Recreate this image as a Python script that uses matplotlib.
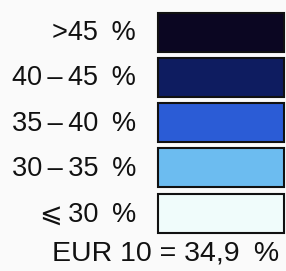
import matplotlib
matplotlib.use("Agg")
import matplotlib.pyplot as plt

labels = [">45\u2002%", "40\u2009–\u200945\u2002%", "35\u2009–\u200940\u2002%",
          "30\u2009–\u200935\u2002%", "⩽\u200930\u2002%"]
colors = ["#0b0622", "#0e1c60", "#2b5cd6", "#6cbcf0", "#f0fcfb"]
note = "EUR 10 = 34,9\u2002%"

W, H = 286, 271
fig = plt.figure(figsize=(W / 100, H / 100), dpi=100)
fig.patch.set_facecolor("#fafafa")
ax = fig.add_axes([0, 0, 1, 1])
ax.set_xlim(0, W)
ax.set_ylim(H, 0)
ax.axis("off")

fam = ["Liberation Sans", "DejaVu Sans"]
y0, step = 32, 45.3
ys = [y0 + i * step for i in range(len(labels))]
ax.barh(ys, [126] * len(labels), left=158, height=39, color=colors,
        edgecolor="#111111", linewidth=1.5)
for y, lab in zip(ys, labels):
    ax.text(136, y + 1, lab, ha="right", va="center", fontsize=19.5, family=fam,
            color="#111111")
ax.text(279, 254, note, ha="right", va="center", fontsize=20.5, family=fam,
        color="#111111")

fig.savefig("out.png", dpi=100, facecolor=fig.get_facecolor())
